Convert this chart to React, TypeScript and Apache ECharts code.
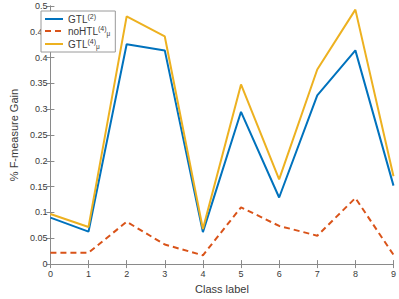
import React, { useEffect, useRef } from "react";
import * as echarts from "echarts";

const classes = [0, 1, 2, 3, 4, 5, 6, 7, 8, 9];
const gtl2 = [0.09, 0.063, 0.426, 0.414, 0.062, 0.295, 0.129, 0.327, 0.414, 0.152];
const noHTL = [0.022, 0.022, 0.082, 0.038, 0.017, 0.11, 0.074, 0.055, 0.128, 0.018];
const gtlMu = [0.097, 0.072, 0.48, 0.441, 0.068, 0.348, 0.164, 0.377, 0.493, 0.17];
const yTicks = [0, 0.05, 0.1, 0.15, 0.2, 0.25, 0.3, 0.35, 0.4, 0.45, 0.5];

const FONT = "'Liberation Sans', Arial, Helvetica, sans-serif";
const AXIS = "#8a8a8a";
const TEXT = "#3a3a3a";

export default function App() {
  const ref = useRef<HTMLDivElement>(null);
  useEffect(() => {
    if (!ref.current) return;
    const chart = echarts.init(ref.current, undefined, { renderer: "svg" });
    const pts = (arr: number[]) => classes.map((c, i) => [c, arr[i]]);
    const axisCommon = {
      axisLine: { show: true, lineStyle: { color: AXIS, width: 1 } },
      axisTick: { show: true, inside: true, length: 4, lineStyle: { color: AXIS } },
      splitLine: { show: false },
    };
    chart.setOption({
      animation: false,
      textStyle: { fontFamily: FONT },
      grid: { left: 34, right: 3, top: 6, bottom: 25, containLabel: false },
      legend: {
        left: 41,
        top: 11,
        orient: "vertical",
        itemWidth: 18,
        itemHeight: 10,
        itemGap: 1,
        padding: [2, 5, 2, 3],
        backgroundColor: "#fff",
        borderColor: "#9a9a9a",
        borderWidth: 1,
        borderRadius: 0,
        itemStyle: { opacity: 0 },
        textStyle: {
          fontFamily: FONT,
          fontSize: 10,
          color: TEXT,
          rich: {
            b: { fontSize: 10, color: TEXT, fontFamily: FONT, lineHeight: 12 },
            sup: { fontSize: 7, color: TEXT, fontFamily: FONT, padding: [0, 0, 5, 0] },
            sub: { fontSize: 6.5, color: TEXT, fontFamily: FONT, padding: [5, 0, 0, 0] },
          },
        },
        data: ["GTL2", "noHTL", "GTLmu"],
        formatter: (name: string) => {
          if (name === "GTL2") return "{b|GTL}{sup|(2)}";
          if (name === "noHTL") return "{b|noHTL}{sup|(4)}{sub|μ}";
          return "{b|GTL}{sup|(4)}{sub|μ}";
        },
      },
      xAxis: [
        {
          type: "value",
          min: 0,
          max: 9,
          interval: 1,
          name: "Class label",
          nameLocation: "middle",
          nameGap: 13,
          nameTextStyle: { fontFamily: FONT, fontSize: 11, color: TEXT },
          axisLabel: { fontFamily: FONT, fontSize: 9, color: TEXT, margin: 5 },
          ...axisCommon,
        },
        {
          type: "value",
          position: "top",
          min: 0,
          max: 9,
          interval: 1,
          axisLabel: { show: false },
          ...axisCommon,
        },
      ],
      yAxis: [
        {
          type: "value",
          min: 0,
          max: 0.5,
          interval: 0.05,
          name: "% F-measure Gain",
          nameLocation: "middle",
          nameGap: 20,
          nameTextStyle: { fontFamily: FONT, fontSize: 11, color: TEXT },
          axisLabel: {
            fontFamily: FONT,
            fontSize: 9,
            color: TEXT,
            margin: 3,
            formatter: (v: number) => {
              const t = yTicks.find((x) => Math.abs(x - v) < 1e-9);
              return t === undefined ? "" : String(t);
            },
          },
          ...axisCommon,
        },
        {
          type: "value",
          position: "right",
          min: 0,
          max: 0.5,
          interval: 0.05,
          axisLabel: { show: false },
          ...axisCommon,
        },
      ],
      series: [
        {
          name: "GTL2",
          type: "line",
          data: pts(gtl2),
          symbol: "none",
          color: "#0072BD",
          lineStyle: { color: "#0072BD", width: 2 },
        },
        {
          name: "noHTL",
          type: "line",
          data: pts(noHTL),
          symbol: "none",
          color: "#D95319",
          lineStyle: { color: "#D95319", width: 2, type: [6, 4] },
        },
        {
          name: "GTLmu",
          type: "line",
          data: pts(gtlMu),
          symbol: "none",
          color: "#EDB120",
          lineStyle: { color: "#EDB120", width: 2 },
        },
      ],
    });
    return () => chart.dispose();
  }, []);
  return <div ref={ref} style={{ width: 399, height: 299, position: "absolute", left: 0, top: 0 }} />;
}
